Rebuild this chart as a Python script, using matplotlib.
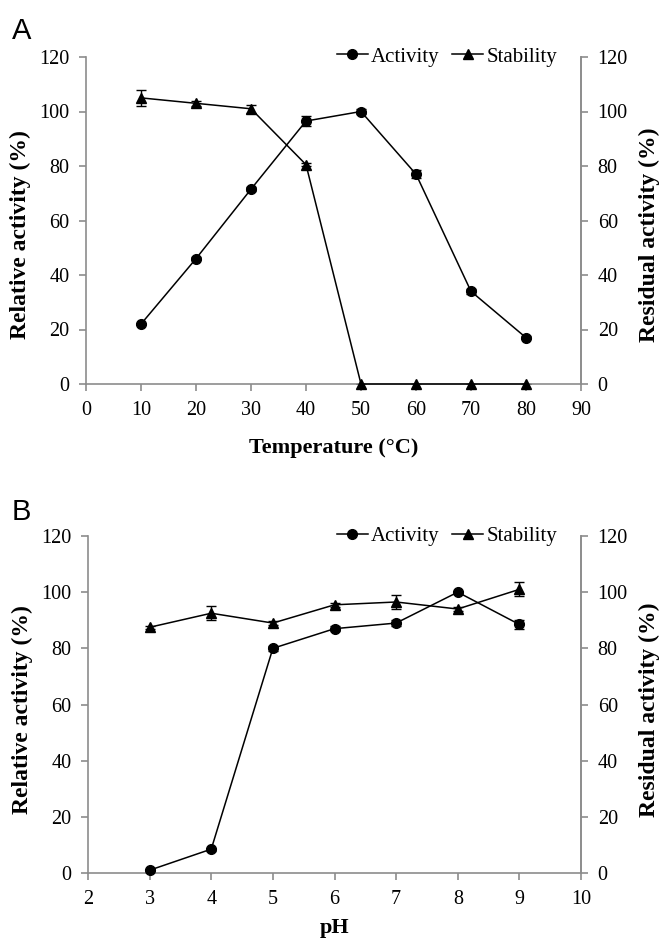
import matplotlib
matplotlib.use("Agg")
import matplotlib.pyplot as plt
import numpy as np

plt.rcParams['font.family'] = ['Liberation Serif', 'DejaVu Serif']

# panel A: temperature
temp = [10, 20, 30, 40, 50, 60, 70, 80]
temp_activity = [22, 46, 71.5, 96.5, 100, 77, 34, 17]
temp_activity_err = [0.5, 0.5, 0.8, 2, 0.8, 1.5, 0.8, 0.5]
temp_stability = [105, 103, 101, 80.5, 0, 0, 0, 0]
temp_stability_err = [3, 0.8, 1.5, 0.5, 0, 0, 0, 0]

# panel B: pH
ph = [3, 4, 5, 6, 7, 8, 9]
ph_activity = [1, 8.5, 80, 87, 89, 100, 88.5]
ph_activity_err = [0.5, 0.5, 0.8, 0.8, 1.2, 0.5, 1.5]
ph_stability = [87.5, 92.5, 89, 95.5, 96.5, 94, 101]
ph_stability_err = [0.5, 2.5, 0.8, 0.8, 2.5, 0.8, 2.5]

GREY = '#8c8c8c'


def style_axes(ax, xlim, xticks):
    ax.set_xlim(*xlim)
    ax.set_ylim(0, 120)
    ax.set_xticks(xticks)
    ax.set_yticks(np.arange(0, 121, 20))
    for s in ['left', 'bottom', 'right']:
        ax.spines[s].set_color(GREY)
        ax.spines[s].set_linewidth(1.2)
    ax.spines['top'].set_visible(False)
    ax.tick_params(direction='out', length=5, width=1.2, color=GREY,
                   labelsize=14.5, pad=7)


def draw_panel(rect, x, act, act_err, stab, stab_err, xlim, xticks,
               xlabel, xlab_y, ylab_y, letter, letter_y):
    ax = fig.add_axes(rect)
    ax2 = ax.twinx()
    style_axes(ax, xlim, xticks)
    style_axes(ax2, xlim, xticks)
    ax2.spines['left'].set_visible(False)
    ax2.spines['bottom'].set_visible(False)

    ax.errorbar(x, act, yerr=act_err, fmt='none', ecolor='black',
                elinewidth=1, capsize=3.5, capthick=1, zorder=2)
    ax.errorbar(x, stab, yerr=stab_err, fmt='none', ecolor='black',
                elinewidth=1, capsize=3.5, capthick=1, zorder=2)
    l1, = ax.plot(x, act, '-o', color='black', lw=1.1, ms=7,
                  clip_on=False, zorder=3, label='Activity')
    l2, = ax.plot(x, stab, '-^', color='black', lw=1.1, ms=7,
                  clip_on=False, zorder=3, label='Stability')

    ax.legend(handles=[l1, l2], loc='center right',
              bbox_to_anchor=(0.952, 1.0), ncol=2, frameon=False,
              fontsize=15, handlelength=1.5, handletextpad=0.15,
              columnspacing=0.6, borderpad=0, borderaxespad=0)

    ax.set_xlabel(xlabel, fontsize=16, fontweight='bold', va='center')
    ax.xaxis.set_label_coords(0.5, xlab_y)
    ax.set_ylabel('Relative activity (%)', fontsize=17, fontweight='bold',
                  va='center')
    ax.yaxis.set_label_coords(-0.133, ylab_y)
    ax2.set_ylabel('Residual activity (%)', fontsize=17, fontweight='bold',
                   va='center')
    ax2.yaxis.set_label_coords(1.139, ylab_y)

    fig.text(12 / 660, letter_y, letter, fontsize=21,
             family='Liberation Sans', va='baseline')
    return ax


fig = plt.figure(figsize=(6.6, 9.39), dpi=100)

draw_panel([86 / 660, 1 - 384 / 939, 495 / 660, 327 / 939],
           temp, temp_activity, temp_activity_err,
           temp_stability, temp_stability_err,
           (0, 90), np.arange(0, 91, 10),
           'Temperature (°C)', -0.196, 0.456, 'A', 1 - 39 / 939)

draw_panel([88 / 660, 1 - 873 / 939, 493 / 660, 337 / 939],
           ph, ph_activity, ph_activity_err,
           ph_stability, ph_stability_err,
           (2, 10), np.arange(2, 11, 1),
           'pH', -0.162, 0.484, 'B', 1 - 520 / 939)

fig.savefig('out.png', dpi=100)
